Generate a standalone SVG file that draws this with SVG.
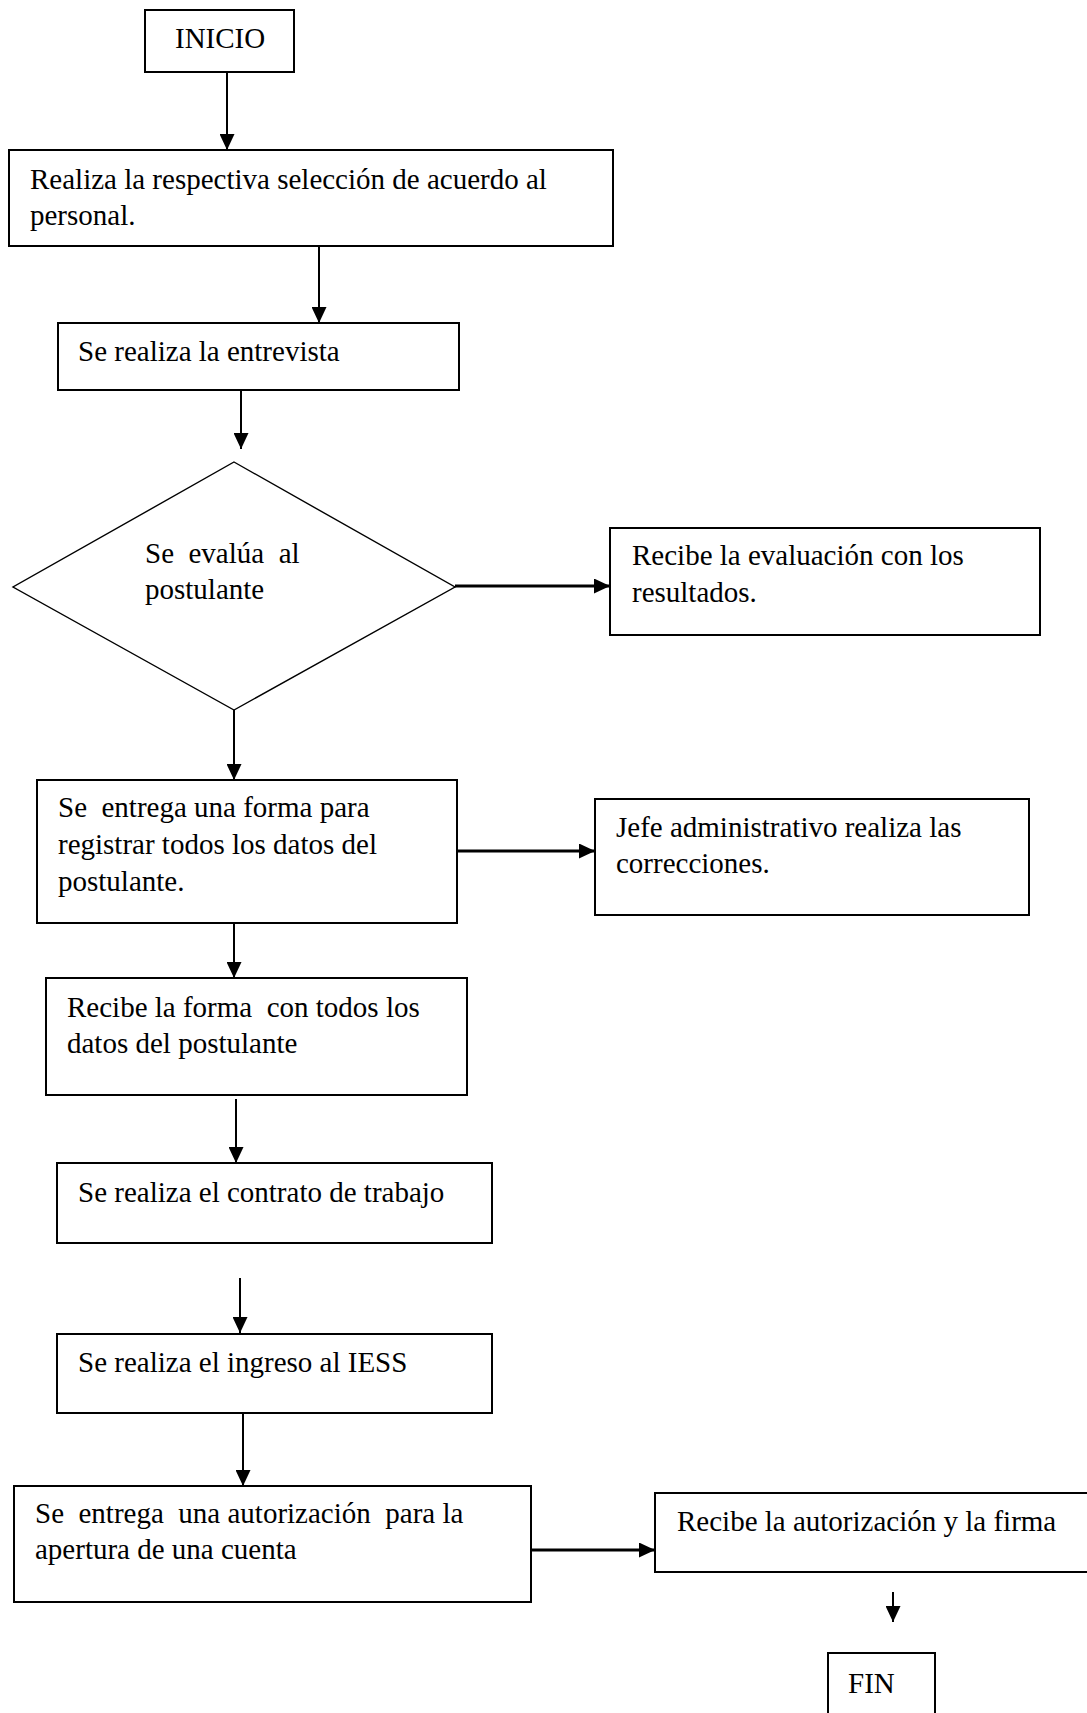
<svg xmlns="http://www.w3.org/2000/svg" width="1087" height="1713" viewBox="0 0 1087 1713">
  <defs>
    <style>
      .box { fill: #ffffff; stroke: #000000; stroke-width: 2; }
      .dec { fill: #ffffff; stroke: #000000; stroke-width: 1.4; }
      .lbl { font-family: "Liberation Serif", "Times New Roman", serif; font-size: 29px; fill: #000000; white-space: pre; }
      .flow { stroke: #000000; stroke-width: 2; fill: none; marker-end: url(#head); }
      .side { stroke: #000000; stroke-width: 3; fill: none; marker-end: url(#head); }
    </style>
    <marker id="head" markerUnits="userSpaceOnUse" markerWidth="16" markerHeight="15" refX="16" refY="7.5" orient="auto">
      <path d="M0,0 L16,7.5 L0,15 Z" fill="#000000"/>
    </marker>
  </defs>
  <rect width="1087" height="1713" fill="#ffffff"/>

  <!-- connectors -->
  <g id="connectors">
    <line class="flow" x1="227" y1="72" x2="227" y2="150"/>
    <line class="flow" x1="319" y1="246" x2="319" y2="323"/>
    <line class="flow" x1="241" y1="390" x2="241" y2="449"/>
    <line class="flow" x1="234" y1="710" x2="234" y2="780"/>
    <line class="side" x1="455" y1="586" x2="610" y2="586"/>
    <line class="side" x1="457" y1="851" x2="595" y2="851"/>
    <line class="flow" x1="234" y1="923" x2="234" y2="978"/>
    <line class="flow" x1="236" y1="1099" x2="236" y2="1163"/>
    <line class="flow" x1="240" y1="1278" x2="240" y2="1333"/>
    <line class="flow" x1="243" y1="1413" x2="243" y2="1486"/>
    <line class="side" x1="531" y1="1550" x2="655" y2="1550"/>
    <line class="flow" x1="893" y1="1592" x2="893" y2="1622"/>
  </g>

  <g id="inicio">
    <rect class="box" x="145" y="10" width="149" height="62"/>
    <text class="lbl" x="175" y="48">INICIO</text>
  </g>

  <g id="seleccion">
    <rect class="box" x="9" y="150" width="604" height="96"/>
    <text class="lbl" x="30" y="189">Realiza la respectiva selección de acuerdo al</text>
    <text class="lbl" x="30" y="225">personal.</text>
  </g>

  <g id="entrevista">
    <rect class="box" x="58" y="323" width="401" height="67"/>
    <text class="lbl" x="78" y="361">Se realiza la entrevista</text>
  </g>

  <g id="evaluacion">
    <polygon class="dec" points="234,462 455,587 234,710 13,587"/>
    <text class="lbl" x="145" y="563">Se  evalúa  al</text>
    <text class="lbl" x="145" y="599">postulante</text>
  </g>

  <g id="resultados">
    <rect class="box" x="610" y="528" width="430" height="107"/>
    <text class="lbl" x="632" y="565">Recibe la evaluación con los</text>
    <text class="lbl" x="632" y="602">resultados.</text>
  </g>

  <g id="forma">
    <rect class="box" x="37" y="780" width="420" height="143"/>
    <text class="lbl" x="58" y="817">Se  entrega una forma para</text>
    <text class="lbl" x="58" y="854">registrar todos los datos del</text>
    <text class="lbl" x="58" y="891">postulante.</text>
  </g>

  <g id="correcciones">
    <rect class="box" x="595" y="799" width="434" height="116"/>
    <text class="lbl" x="616" y="837">Jefe administrativo realiza las</text>
    <text class="lbl" x="616" y="873">correcciones.</text>
  </g>

  <g id="recibe-forma">
    <rect class="box" x="46" y="978" width="421" height="117"/>
    <text class="lbl" x="67" y="1017">Recibe la forma  con todos los</text>
    <text class="lbl" x="67" y="1053">datos del postulante</text>
  </g>

  <g id="contrato">
    <rect class="box" x="57" y="1163" width="435" height="80"/>
    <text class="lbl" x="78" y="1202">Se realiza el contrato de trabajo</text>
  </g>

  <g id="iess">
    <rect class="box" x="57" y="1334" width="435" height="79"/>
    <text class="lbl" x="78" y="1372">Se realiza el ingreso al IESS</text>
  </g>

  <g id="autorizacion">
    <rect class="box" x="14" y="1486" width="517" height="116"/>
    <text class="lbl" x="35" y="1523">Se  entrega  una autorización  para la</text>
    <text class="lbl" x="35" y="1559">apertura de una cuenta</text>
  </g>

  <g id="firma">
    <rect class="box" x="655" y="1493" width="440" height="79"/>
    <text class="lbl" x="677" y="1531">Recibe la autorización y la firma</text>
  </g>

  <g id="fin">
    <rect class="box" x="828" y="1653" width="107" height="70"/>
    <text class="lbl" x="848" y="1693">FIN</text>
  </g>
</svg>
